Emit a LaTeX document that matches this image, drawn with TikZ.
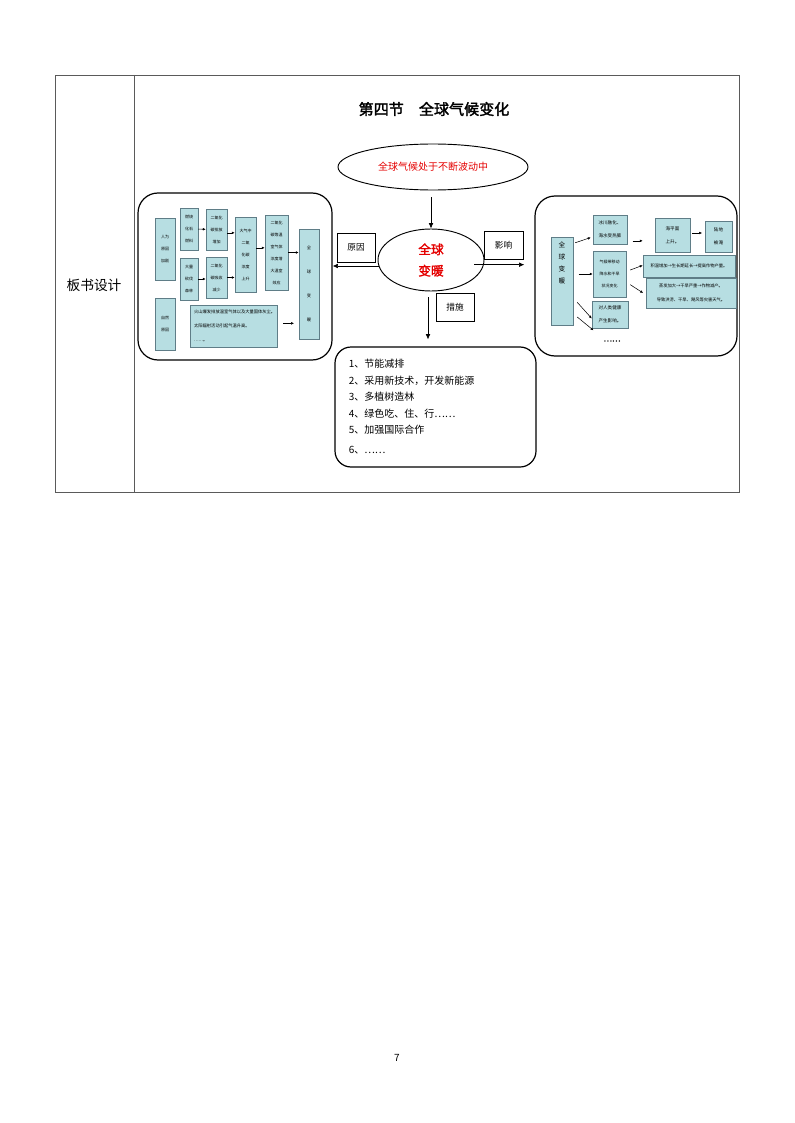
\documentclass[tikz,border=0pt]{standalone}
\usepackage{fontspec}
\setmainfont[AutoFakeBold=2]{Noto Sans CJK SC}
\usetikzlibrary{shapes.geometric,arrows.meta}

\definecolor{cellfill}{RGB}{183,222,226}
\definecolor{cellborder}{RGB}{95,125,135}
\definecolor{hotred}{RGB}{228,0,0}
\definecolor{tablegray}{RGB}{90,90,90}

\tikzset{
  sz/.style 2 args={minimum width=#1*0.75pt,minimum height=#2*0.75pt},
  cell/.style={draw=cellborder,fill=cellfill,line width=0.35pt,inner sep=0pt,align=center},
  smalltxt/.style={font=\fontsize{3}{9}\selectfont},
  righttxt/.style={font=\fontsize{3.4}{10}\selectfont},
  panel/.style={draw,line width=0.9pt,rounded corners=15pt,inner sep=0pt},
  tag/.style={draw,line width=0.6pt,inner sep=0pt,font=\fontsize{6.5}{8}\selectfont},
  arr/.style={-{Latex[length=4pt,width=3.5pt]},line width=0.5pt},
  sarr/.style={-{Latex[length=2.2pt,width=2pt]},line width=0.4pt}
}

\begin{document}
\begin{tikzpicture}[x=0.75pt,y=-0.75pt]
  \useasboundingbox (0,0) rectangle (794,1123);

  % table
  \draw[tablegray,line width=0.6pt] (55,75) rectangle (739,492);
  \draw[tablegray,line width=0.6pt] (134,75) -- (134,492);
  \node[font=\fontsize{10.3}{12}\selectfont] (rowhead) at (94,285) {板书设计};
  \node[font=\fontsize{11.3}{13}\selectfont\bfseries] (title) at (434,109) {第四节　全球气候变化};

  % centre
  \node[ellipse,draw,line width=0.7pt,sz={190}{46},inner sep=0pt,text=hotred,font=\fontsize{7.5}{9}\selectfont] (tope) at (433,167) {全球气候处于不断波动中};
  \node[ellipse,draw,line width=0.7pt,sz={106}{62},inner sep=0pt,text=hotred,align=center,font=\fontsize{9.5}{16}\selectfont\bfseries] (core) at (431,260) {全球\\变暖};
  \node[tag,sz={38}{29}] (yuanyin) at (356,247.5) {原因};
  \node[tag,sz={39}{28}] (yingxiang) at (503.5,245) {影响};
  \node[tag,sz={38}{28}] (cuoshi) at (455,307) {措施};

  % panels
  \node[panel,sz={194}{167}] (lpanel) at (235,276.5) {};
  \node[panel,sz={202}{160}] (rpanel) at (636,276) {};
  \node[panel,rounded corners=12pt,sz={201}{120},inner xsep=9.75pt,text width=130pt,align=left,
        font=\fontsize{7.5}{12.4}\selectfont] (measures) at (435.5,407)
        {1、节能减排\\2、采用新技术，开发新能源\\3、多植树造林\\4、绿色吃、住、行……\\5、加强国际合作\\[2.6pt]6、……};

  \draw[arr] ([yshift=-5pt]core.north |- tope.south) -- (core.north);
  \draw[arr] ([xshift=1pt,yshift=-4.5pt]core.west) -- ([yshift=-4.5pt]core.west -| lpanel.east);
  \draw[arr] ([xshift=-7.5pt,yshift=-3.5pt]core.east) -- ([xshift=-7.5pt,yshift=-3.5pt]core.east -| rpanel.west);
  \draw[arr] ([xshift=-2.25pt,yshift=-4.5pt]core.south) -- ++(0,42);

  % left panel: causes
  \node[cell,sz={20}{62},smalltxt] (renwei) at (165,249) {人为\\原因\\加剧};
  \node[cell,sz={20}{52},smalltxt] (ziran) at (165,324) {自然\\原因};
  \node[cell,sz={18}{42},smalltxt] (ranshao) at (189,229) {燃烧\\化石\\燃料};
  \node[cell,sz={21}{41},smalltxt] (paifang) at (216.5,229.5) {二氧化\\碳排放\\增加};
  \node[cell,sz={18}{42},smalltxt] (kanfa) at (189,279) {大量\\砍伐\\森林};
  \node[cell,sz={21}{41},smalltxt] (xishou) at (216.5,277.5) {二氧化\\碳吸收\\减少};
  \node[cell,sz={21}{75},smalltxt] (nongdu) at (245.5,254.5) {大气中\\二氧\\化碳\\浓度\\上升};
  \node[cell,sz={23}{75},smalltxt] (xiaoying) at (276.5,252.5) {二氧化\\碳等温\\室气体\\浓度增\\大温室\\效应};
  \node[cell,sz={20}{110},font=\fontsize{3.2}{18}\selectfont] (biannuan) at (309,284) {全\\球\\变\\暖};
  \node[cell,sz={87}{42},inner xsep=3pt,text width=59pt,align=left,font=\fontsize{3.2}{10.5}\selectfont] (huoshan) at (233.5,326)
        {火山爆发排放温室气体以及大量固体灰尘。\\太阳辐射活动引起气温升高。\\……。};

  \draw[sarr] (ranshao) -- (paifang);
  \draw[sarr] ([yshift=-2.5pt]paifang.east) -- ([yshift=-2.5pt]paifang.east -| nongdu.west);
  \draw[sarr] (kanfa.east) -- (kanfa.east -| xishou.west);
  \draw[sarr] (xishou.east) -- (xishou.east -| nongdu.west);
  \draw[sarr] ([yshift=5pt]nongdu.east) -- ([yshift=5pt]nongdu.east -| xiaoying.west);
  \draw[sarr] (xiaoying.east) -- (xiaoying.east -| biannuan.west);
  \draw[sarr] ([xshift=4.5pt,yshift=2pt]huoshan.east) -- ([xshift=-3.5pt,yshift=2pt]huoshan.east -| biannuan.west);

  % right panel: effects
  \node[cell,sz={22}{88},font=\fontsize{5}{9}\selectfont] (quanqiu) at (562,281) {全\\球\\变\\暖\\~\\~\\~};
  \node[cell,sz={34}{29},righttxt] (bingchuan) at (610,229.5) {冰川融化、\\海水受热膨};
  \node[cell,sz={35}{34},righttxt] (haiping) at (672.5,235) {海平面\\上升。};
  \node[cell,sz={27}{31},righttxt] (ludi) at (718.5,236.5) {陆地\\被淹};
  \node[cell,sz={33}{46},font=\fontsize{3}{9}\selectfont] (qihou) at (609.5,274) {气候带移动\\降水和干旱\\状况变化};
  \node[cell,sz={92}{22},font=\fontsize{3.2}{9}\selectfont] (jiwen) at (689,266) {积温增加→生长期延长→提高作物产量。};
  \node[cell,sz={90}{30},font=\fontsize{3.2}{10.5}\selectfont] (zhengfa) at (691,293) {蒸发加大→干旱严重→作物减产。\\导致洪涝、干旱、飓风等灾害天气。};
  \node[cell,sz={36}{27},righttxt] (jiankang) at (610,314.5) {对人类健康\\产生影响。};
  \node[font=\fontsize{6}{8}\selectfont\bfseries] (dots) at (612,341) {……};

  \draw[sarr] ([xshift=1.5pt,yshift=-4.5pt]quanqiu.north east) -- ([xshift=-1.5pt,yshift=-6pt]bingchuan.west);
  \draw[sarr] ([xshift=4pt,yshift=-8.5pt]bingchuan.east) -- ([xshift=-9pt,yshift=-8.5pt]bingchuan.east -| haiping.west);
  \draw[sarr] ([xshift=1.5pt,yshift=1.5pt]haiping.east) -- ([xshift=-2pt,yshift=1.5pt]haiping.east -| ludi.west);
  \draw[sarr] ([xshift=4pt]quanqiu.east |- qihou.west) -- (qihou.west);
  \draw[sarr] ([xshift=3pt,yshift=3pt]qihou.east) -- ([yshift=0.5pt]jiwen.west);
  \draw[sarr] ([xshift=3pt,yshift=-8pt]qihou.east) -- ([xshift=-2pt]zhengfa.west);
  \draw[sarr] ([xshift=3pt,yshift=-16pt]quanqiu.east) -- ([yshift=-3pt]jiankang.west);
  \draw[sarr] ([xshift=3pt,yshift=-27pt]quanqiu.east) -- ([xshift=-4pt,yshift=8pt]dots.west);

  % page number
  \node[font=\fontsize{7.5}{9}\selectfont] (pageno) at (397,1058) {7};
\end{tikzpicture}
\end{document}
